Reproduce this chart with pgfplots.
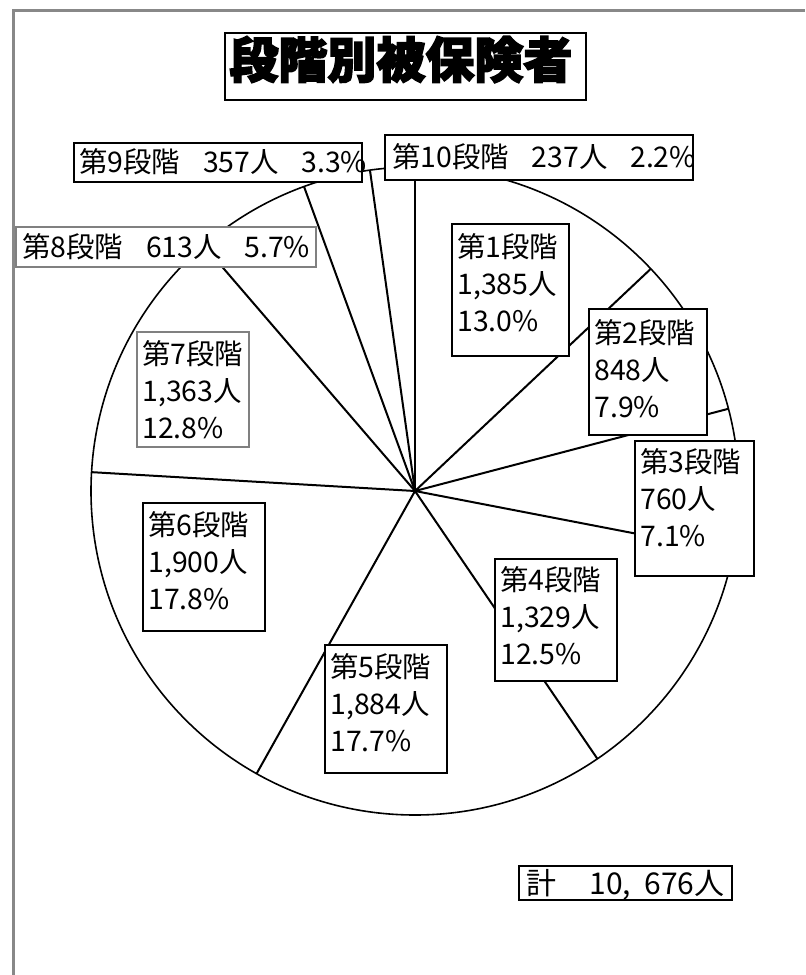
\documentclass[border=0pt]{standalone}
\usepackage{pgfplots}
\usepackage{pgfplotstable}
\pgfplotsset{compat=1.18}
\usepackage{fontspec}
\setmainfont{Noto Sans CJK JP}
\newfontfamily\titlefont{Noto Sans CJK JP}[FakeBold=3]

\pgfplotstableread{
stage count
1 1385
2 848
3 760
4 1329
5 1884
6 1900
7 1363
8 613
9 357
10 237
}\piedata
\pgfplotstablecreatecol[expr accum={\pgfmathaccuma + \thisrow{count}}{0}]{cum}\piedata

\definecolor{framegray}{RGB}{136,136,136}
\newcommand{\lab}{\fontsize{14.2}{18.5}\selectfont}

\begin{document}
\begin{tikzpicture}
\begin{axis}[
  scale only axis, width=402.5pt, height=487.5pt,
  xmin=0, xmax=805, ymin=0, ymax=975, y dir=reverse,
  hide axis, clip=false]
% outer frame
\draw[line width=1.5pt, framegray] (axis cs:13,975) -- (axis cs:13,10) -- (axis cs:805,10);
% pie outline
\draw[line width=0.8pt, black] (axis cs:415,491) circle[radius=324];
% slice boundaries from the cumulative counts
\addplot[black, line width=1pt,
  quiver={u={324*sin(\thisrow{cum}*360/10676)}, v={-324*cos(\thisrow{cum}*360/10676)}}]
  table[x expr=415, y expr=491] {\piedata};

% title
\draw[line width=1pt, fill=white] (axis cs:225,33) rectangle (axis cs:586,100);
\node[anchor=base west, inner sep=0, font=\titlefont\bfseries\fontsize{24.5}{28}\selectfont] at (axis cs:229,78) {段階別被保険者};

% single-line labels
\draw[line width=0.8pt, fill=white] (axis cs:385,135) rectangle (axis cs:693,180);
\node[anchor=base west, inner sep=0, font=\lab] at (axis cs:392,167) {第10段階\hspace{0.8em}237人\hspace{0.8em}2.2\%};
\draw[line width=0.8pt, fill=white] (axis cs:74,143) rectangle (axis cs:362,182);
\node[anchor=base west, inner sep=0, font=\lab] at (axis cs:79,172) {第9段階\hspace{0.8em}357人\hspace{0.8em}3.3\%};
\draw[line width=0.6pt, gray, fill=white] (axis cs:16,227) rectangle (axis cs:316,267);
\node[anchor=base west, inner sep=0, font=\lab] at (axis cs:22,257) {第8段階\hspace{0.8em}613人\hspace{0.8em}5.7\%};

% three-line labels
\draw[line width=0.8pt, fill=white] (axis cs:452,224) rectangle (axis cs:569,356);
\node[anchor=base west, inner sep=0, font=\lab] at (axis cs:457,257) {第1段階};
\node[anchor=base west, inner sep=0, font=\lab] at (axis cs:457,294) {1,385人};
\node[anchor=base west, inner sep=0, font=\lab] at (axis cs:457,331) {13.0\%};

\draw[line width=0.8pt, fill=white] (axis cs:589,309) rectangle (axis cs:707,435);
\node[anchor=base west, inner sep=0, font=\lab] at (axis cs:594,343) {第2段階};
\node[anchor=base west, inner sep=0, font=\lab] at (axis cs:594,380) {848人};
\node[anchor=base west, inner sep=0, font=\lab] at (axis cs:594,417) {7.9\%};

\draw[line width=0.8pt, fill=white] (axis cs:635,441) rectangle (axis cs:754,576);
\node[anchor=base west, inner sep=0, font=\lab] at (axis cs:640,472) {第3段階};
\node[anchor=base west, inner sep=0, font=\lab] at (axis cs:640,509) {760人};
\node[anchor=base west, inner sep=0, font=\lab] at (axis cs:640,546) {7.1\%};

\draw[line width=0.8pt, fill=white] (axis cs:495,559) rectangle (axis cs:617,681);
\node[anchor=base west, inner sep=0, font=\lab] at (axis cs:500,590) {第4段階};
\node[anchor=base west, inner sep=0, font=\lab] at (axis cs:500,627) {1,329人};
\node[anchor=base west, inner sep=0, font=\lab] at (axis cs:500,664) {12.5\%};

\draw[line width=0.8pt, fill=white] (axis cs:325,645) rectangle (axis cs:447,773);
\node[anchor=base west, inner sep=0, font=\lab] at (axis cs:330,677) {第5段階};
\node[anchor=base west, inner sep=0, font=\lab] at (axis cs:330,714) {1,884人};
\node[anchor=base west, inner sep=0, font=\lab] at (axis cs:330,751) {17.7\%};

\draw[line width=0.8pt, fill=white] (axis cs:143,503) rectangle (axis cs:265,631);
\node[anchor=base west, inner sep=0, font=\lab] at (axis cs:148,535) {第6段階};
\node[anchor=base west, inner sep=0, font=\lab] at (axis cs:148,572) {1,900人};
\node[anchor=base west, inner sep=0, font=\lab] at (axis cs:148,609) {17.8\%};

\draw[line width=0.6pt, gray, fill=white] (axis cs:137,332) rectangle (axis cs:249,447);
\node[anchor=base west, inner sep=0, font=\lab] at (axis cs:142,364) {第7段階};
\node[anchor=base west, inner sep=0, font=\lab] at (axis cs:142,401) {1,363人};
\node[anchor=base west, inner sep=0, font=\lab] at (axis cs:142,438) {12.8\%};

% total
\draw[line width=1pt, fill=white] (axis cs:519,866) rectangle (axis cs:732,900);
\node[anchor=base west, inner sep=0, font=\fontsize{15}{18}\selectfont] at (axis cs:526,894) {計\hspace{1.1em}10,\hspace{0.45em}676人};
\end{axis}
\pgfresetboundingbox
\path (current axis.south west) rectangle (current axis.north east);
\end{tikzpicture}
\end{document}
